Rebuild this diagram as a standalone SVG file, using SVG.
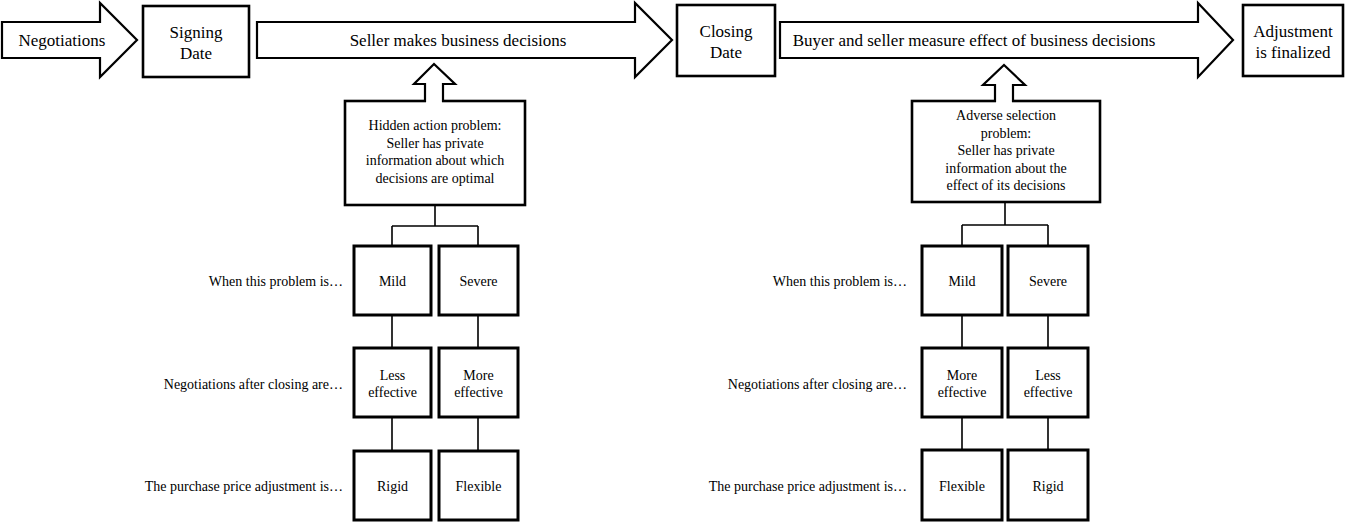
<svg xmlns="http://www.w3.org/2000/svg" width="1356" height="529" viewBox="0 0 1356 529">
<style>
.bg{fill:#fff}
.arrow{fill:#fff;stroke:#000;stroke-width:2.2;stroke-linejoin:miter}
.box{fill:#fff;stroke:#000;stroke-width:2.6}
.sbox{fill:#fff;stroke:#000;stroke-width:3}
.conn{fill:none;stroke:#000;stroke-width:1.6}
.big{font-family:"Liberation Serif","Times New Roman",serif;font-size:17px;fill:#000;text-anchor:middle}
.sm{font-family:"Liberation Serif","Times New Roman",serif;font-size:14px;fill:#000;text-anchor:middle}
.lbl{font-family:"Liberation Serif","Times New Roman",serif;font-size:14px;fill:#000;text-anchor:end}
</style>
<rect class="bg" x="0" y="0" width="1356" height="529"/>

<g id="negotiations">
<polygon class="arrow" points="2,22 100,22 100,3 137,40 100,77 100,58 2,58"/>
<text class="big" x="62" y="46">Negotiations</text>
</g>
<g id="signing-date">
<rect class="box" x="143" y="6" width="106" height="71"/>
<text class="big" x="196" y="38">Signing</text>
<text class="big" x="196" y="59">Date</text>
</g>
<g id="seller-decisions">
<polygon class="arrow" points="257,22 635,22 635,3 672,40 635,77 635,58 257,58"/>
<text class="big" x="458" y="46">Seller makes business decisions</text>
</g>
<g id="closing-date">
<rect class="box" x="677" y="5" width="98" height="71"/>
<text class="big" x="726" y="37">Closing</text>
<text class="big" x="726" y="58">Date</text>
</g>
<g id="buyer-seller-measure">
<polygon class="arrow" points="780,22 1198,22 1198,3 1233,40 1198,77 1198,58 780,58"/>
<text class="big" x="974" y="46">Buyer and seller measure effect of business decisions</text>
</g>
<g id="adjustment-finalized">
<rect class="box" x="1243" y="5" width="100" height="71"/>
<text class="big" x="1293" y="37">Adjustment</text>
<text class="big" x="1293" y="58">is finalized</text>
</g>

<g id="hidden-action">
<rect class="box" x="345" y="101" width="180" height="104"/>
<rect x="426" y="98" width="16" height="6" fill="#fff"/>
<polyline class="arrow" points="425,102 425,84 414,84 434,64 455,84 443,84 443,102"/>
<text class="sm" x="435" y="130">Hidden action problem:</text>
<text class="sm" x="435" y="147.5">Seller has private</text>
<text class="sm" x="435" y="165">information about which</text>
<text class="sm" x="435" y="182.5">decisions are optimal</text>
</g>
<g id="adverse-selection">
<rect class="box" x="912" y="101" width="188" height="101"/>
<rect x="996" y="98" width="16" height="6" fill="#fff"/>
<polyline class="arrow" points="995,102 995,85 983,85 1004,65 1025,85 1013,85 1013,102"/>
<text class="sm" x="1006" y="120">Adverse selection</text>
<text class="sm" x="1006" y="137.5">problem:</text>
<text class="sm" x="1006" y="155">Seller has private</text>
<text class="sm" x="1006" y="172.5">information about the</text>
<text class="sm" x="1006" y="190">effect of its decisions</text>
</g>

<g id="connectors">
<path class="conn" d="M435,205 V226 M392,226 H478 M392,226 V246 M478,226 V246 M392,315 V348 M478,315 V348 M392,417 V451 M478,417 V451"/>
<path class="conn" d="M1005,202 V225 M962,225 H1048 M962,225 V245 M1048,225 V245 M962,315 V348 M1048,315 V348 M962,417 V450 M1048,417 V450"/>
</g>

<g id="row-labels-left">
<text class="lbl" x="343" y="286">When this problem is…</text>
<text class="lbl" x="343" y="389">Negotiations after closing are…</text>
<text class="lbl" x="343" y="491">The purchase price adjustment is…</text>
</g>
<g id="row-labels-right">
<text class="lbl" x="907" y="286">When this problem is…</text>
<text class="lbl" x="907" y="389">Negotiations after closing are…</text>
<text class="lbl" x="907" y="491">The purchase price adjustment is…</text>
</g>

<g id="left-mild">
<rect class="sbox" x="354" y="246" width="77" height="69"/>
<text class="sm" x="392.5" y="286">Mild</text>
</g>
<g id="left-severe">
<rect class="sbox" x="439" y="246" width="79" height="69"/>
<text class="sm" x="478.5" y="286">Severe</text>
</g>
<g id="left-less-effective">
<rect class="sbox" x="354" y="348" width="77" height="69"/>
<text class="sm" x="392.5" y="380">Less</text>
<text class="sm" x="392.5" y="397">effective</text>
</g>
<g id="left-more-effective">
<rect class="sbox" x="439" y="348" width="79" height="69"/>
<text class="sm" x="478.5" y="380">More</text>
<text class="sm" x="478.5" y="397">effective</text>
</g>
<g id="left-rigid">
<rect class="sbox" x="354" y="451" width="77" height="69"/>
<text class="sm" x="392.5" y="491">Rigid</text>
</g>
<g id="left-flexible">
<rect class="sbox" x="439" y="451" width="79" height="69"/>
<text class="sm" x="478.5" y="491">Flexible</text>
</g>

<g id="right-mild">
<rect class="sbox" x="922" y="246" width="80" height="69"/>
<text class="sm" x="962" y="286">Mild</text>
</g>
<g id="right-severe">
<rect class="sbox" x="1008" y="246" width="80" height="69"/>
<text class="sm" x="1048" y="286">Severe</text>
</g>
<g id="right-more-effective">
<rect class="sbox" x="922" y="348" width="80" height="69"/>
<text class="sm" x="962" y="380">More</text>
<text class="sm" x="962" y="397">effective</text>
</g>
<g id="right-less-effective">
<rect class="sbox" x="1008" y="348" width="80" height="69"/>
<text class="sm" x="1048" y="380">Less</text>
<text class="sm" x="1048" y="397">effective</text>
</g>
<g id="right-flexible">
<rect class="sbox" x="922" y="450" width="80" height="70"/>
<text class="sm" x="962" y="491">Flexible</text>
</g>
<g id="right-rigid">
<rect class="sbox" x="1008" y="450" width="80" height="70"/>
<text class="sm" x="1048" y="491">Rigid</text>
</g>
</svg>
